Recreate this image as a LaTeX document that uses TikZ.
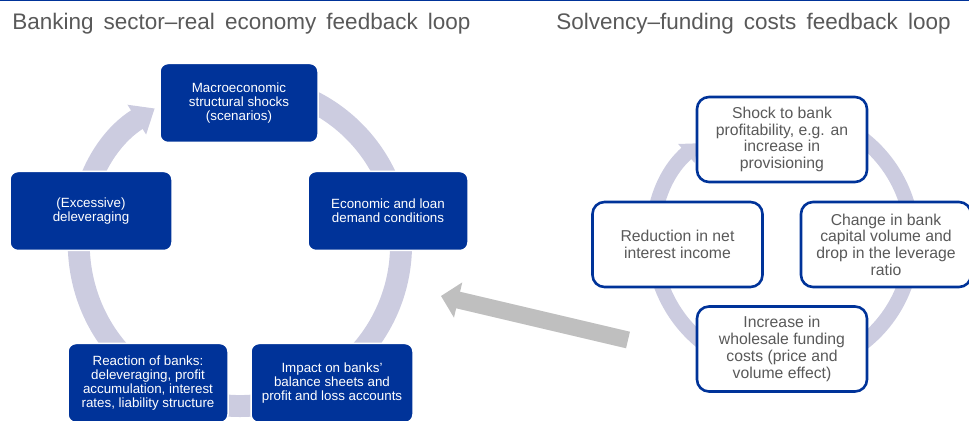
\documentclass[tikz,border=0pt]{standalone}
\usepackage{fontspec}
\setmainfont{Liberation Sans}
\usepackage{xcolor}
\usepackage{tikz}
\usetikzlibrary{arrows.meta,calc}
\definecolor{ecbblue}{RGB}{0,51,153}
\definecolor{ringgray}{RGB}{204,204,224}
\definecolor{textgray}{RGB}{89,89,89}
\definecolor{arrgray}{RGB}{191,191,191}
\newcommand{\px}{0.025cm}
\newcommand{\widesp}{\spaceskip=0.45em\relax}
\tikzset{
  title/.style   = {anchor=base west, inner sep=0pt, text=textgray, font=\fontsize{16}{19}\selectfont\widesp},
  bluebox/.style = {draw=white, line width=1.5*\px, fill=ecbblue, rounded corners=8*\px, align=center, text=white,
                    minimum width=160*\px, minimum height=79*\px, inner sep=0pt, font=\fontsize{9.5}{10.1}\selectfont},
  linebox/.style = {draw=ecbblue, line width=2.6*\px, fill=white, rounded corners=12*\px, align=center, text=textgray,
                    minimum width=170*\px, minimum height=85*\px, inner sep=0pt, font=\fontsize{11.2}{11.9}\selectfont},
  bigring/.style = {draw=ringgray, line width=15.6pt, -{Triangle[width=24pt,length=15pt]}},
  smallring/.style = {draw=ringgray, line width=10.7pt, -{Triangle[width=17pt,length=11pt]}},
  flow/.style    = {draw=arrgray, line width=12.1pt, -{Triangle[width=25pt,length=12.5pt]}},
}
\begin{document}
\begin{tikzpicture}[x=\px, y=\px]
  \useasboundingbox (0,0) rectangle (969,421);
  \fill[ecbblue] (0,419.5) rectangle (969,421);

  % titles
  \node[title] (ttl) at (12,391) {Banking sector--real economy feedback loop};
  \node[title] (ttr) at (556,391) {Solvency--funding costs feedback loop};

  % banking sector - real economy loop
  \coordinate (lc) at (240,176);
  \draw[bigring] ($(lc)+(470:161)$) arc[start angle=470, end angle=122, radius=161];
  \node[bluebox, minimum width=158*\px] (macro) at (239,318) {Macroeconomic\\structural shocks\\(scenarios)};
  \node[bluebox] (econ) at (388,210) {Economic and loan\\demand conditions};
  \node[bluebox, minimum width=162*\px] (delev) at (91,210) {(Excessive)\\deleveraging};
  \node[bluebox] (react) at (148,38) {Reaction of banks:\\deleveraging, profit\\accumulation, interest\\rates, liability structure};
  \node[bluebox, minimum width=162*\px] (impact) at (332,38) {Impact on banks'\\balance sheets and\\profit and loss accounts};

  % solvency - funding costs loop
  \coordinate (rc) at (783,180);
  \draw[smallring] ($(rc)+(481:129.5)$) arc[start angle=481, end angle=131, radius=129.5];
  \node[linebox] (shock) at (782,281.5) {Shock to bank\\profitability, e.g. an\\increase in\\provisioning};
  \node[linebox] (change) at (886,176.5) {Change in bank\\capital volume and\\drop in the leverage\\ratio};
  \node[linebox] (reduct) at (677.5,176.5) {Reduction in net\\interest income};
  \node[linebox] (incr) at (782,72) {Increase in\\wholesale funding\\costs (price and\\volume effect)};

  % link between the loops
  \coordinate (gtail) at (628,81);
  \coordinate (gtip) at (441,125);
  \draw[flow] (gtail) -- (gtip);
\end{tikzpicture}
\end{document}
